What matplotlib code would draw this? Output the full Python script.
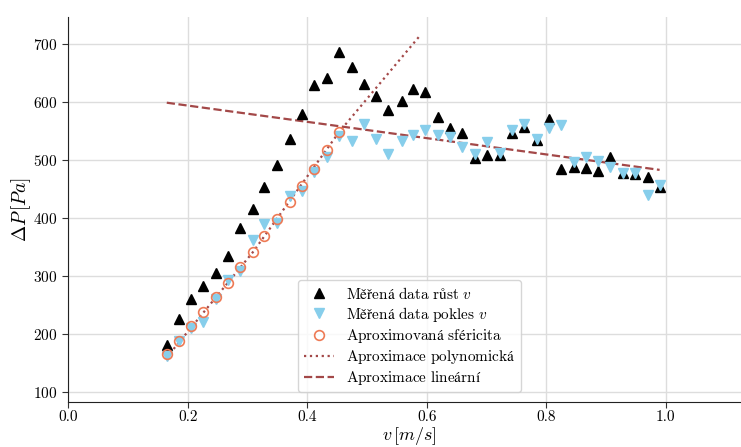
import matplotlib
matplotlib.use("Agg")
import matplotlib.pyplot as plt

plt.rcParams['font.family'] = ['cmr10', 'DejaVu Serif']
plt.rcParams['mathtext.fontset'] = 'cm'
plt.rcParams['axes.formatter.use_mathtext'] = True

# measured speeds (shared by both series)
v = [0.165, 0.186, 0.206, 0.226, 0.247, 0.268, 0.288, 0.310, 0.328, 0.350,
     0.371, 0.392, 0.412, 0.433, 0.454, 0.475, 0.495, 0.515, 0.536, 0.558,
     0.578, 0.598, 0.619, 0.639, 0.660, 0.681, 0.701, 0.722, 0.743, 0.763,
     0.784, 0.805, 0.825, 0.846, 0.867, 0.887, 0.907, 0.929, 0.949, 0.970,
     0.990]

# pressure drop, increasing speed
dp_up = [180, 225, 260, 282, 305, 334, 382, 415, 454, 491,
         536, 579, 629, 641, 687, 660, 631, 610, 587, 602,
         622, 617, 575, 556, 546, 503, 508, 508, 546, 557,
         534, 570, 485, 488, 487, 481, 505, 477, 476, 470,
         454]

# pressure drop, decreasing speed
dp_down = [161, 187, 210, 221, 260, 292, 309, 362, 389, 391,
           438, 447, 480, 506, 541, 533, 562, 537, 510, 532,
           543, 552, 543, 540, 523, 510, 531, 513, 551, 562,
           536, 556, 560, 497, 506, 498, 488, 478, 477, 440,
           457]

# approximated sphericity points
v_sph = v[:15]
dp_sph = [165, 188, 213, 237, 263, 288, 315, 342, 369, 398,
          427, 456, 485, 517, 549]

# polynomial approximation
v_poly = [0.164, 0.310, 0.454, 0.589]
dp_poly = [158, 342, 549, 715]

# linear approximation (end points of dashed line)
v_lin = [0.165, 0.990]
dp_lin = [599, 483]

fig = plt.figure(figsize=(7.41, 4.47), dpi=100)
ax = fig.add_axes([68.2 / 741, 45.5 / 447, (751 - 68.2) / 741, (401.5 - 17) / 447])

ax.plot(v, dp_up, linestyle='none', marker='^', markersize=7.5, color='black',
        label=r'$\mathrm{Měřená\ data\ růst}\ v$', zorder=3)
ax.plot(v, dp_down, linestyle='none', marker='v', markersize=7.5, color='#87CEEB',
        label=r'$\mathrm{Měřená\ data\ pokles}\ v$', zorder=3)
ax.plot(v_sph, dp_sph, linestyle='none', marker='o', markersize=7, markerfacecolor='none',
        markeredgecolor='#EE7A55', markeredgewidth=1.2,
        label=r'$\mathrm{Aproximovaná\ sféricita}$', zorder=4)
ax.plot(v_poly, dp_poly, linestyle=':', linewidth=1.6, color='#A34848',
        label=r'$\mathrm{Aproximace\ polynomická}$', zorder=2)
ax.plot(v_lin, dp_lin, linestyle='--', linewidth=1.6, color='#A34848',
        label=r'$\mathrm{Aproximace\ lineární}$', zorder=2)

ax.set_xlim(0, 1.143)
ax.set_ylim(83, 747)
ax.set_xticks([0.0, 0.2, 0.4, 0.6, 0.8, 1.0])
ax.set_yticks([100, 200, 300, 400, 500, 600, 700])
ax.set_xticklabels(['0.0', '0.2', '0.4', '0.6', '0.8', '1.0'])
ax.tick_params(labelsize=11, length=4, color='#333333')
ax.tick_params(axis='x', pad=2)

ax.set_xlabel(r'$v\,[m/s]$', fontsize=13, labelpad=1)
ax.set_ylabel(r'$\Delta P\,[Pa]$', fontsize=14, labelpad=0)

ax.grid(True, color='#dddddd', linewidth=1)
ax.set_axisbelow(True)
for side in ['top', 'right']:
    ax.spines[side].set_visible(False)
for side in ['left', 'bottom']:
    ax.spines[side].set_color('#222222')

ax.legend(loc='lower center', fontsize=11, framealpha=0.8, edgecolor='#cccccc',
          handlelength=2.0, labelspacing=0.2, borderpad=0.35, borderaxespad=0.6)

fig.savefig('out.png', dpi=100)
